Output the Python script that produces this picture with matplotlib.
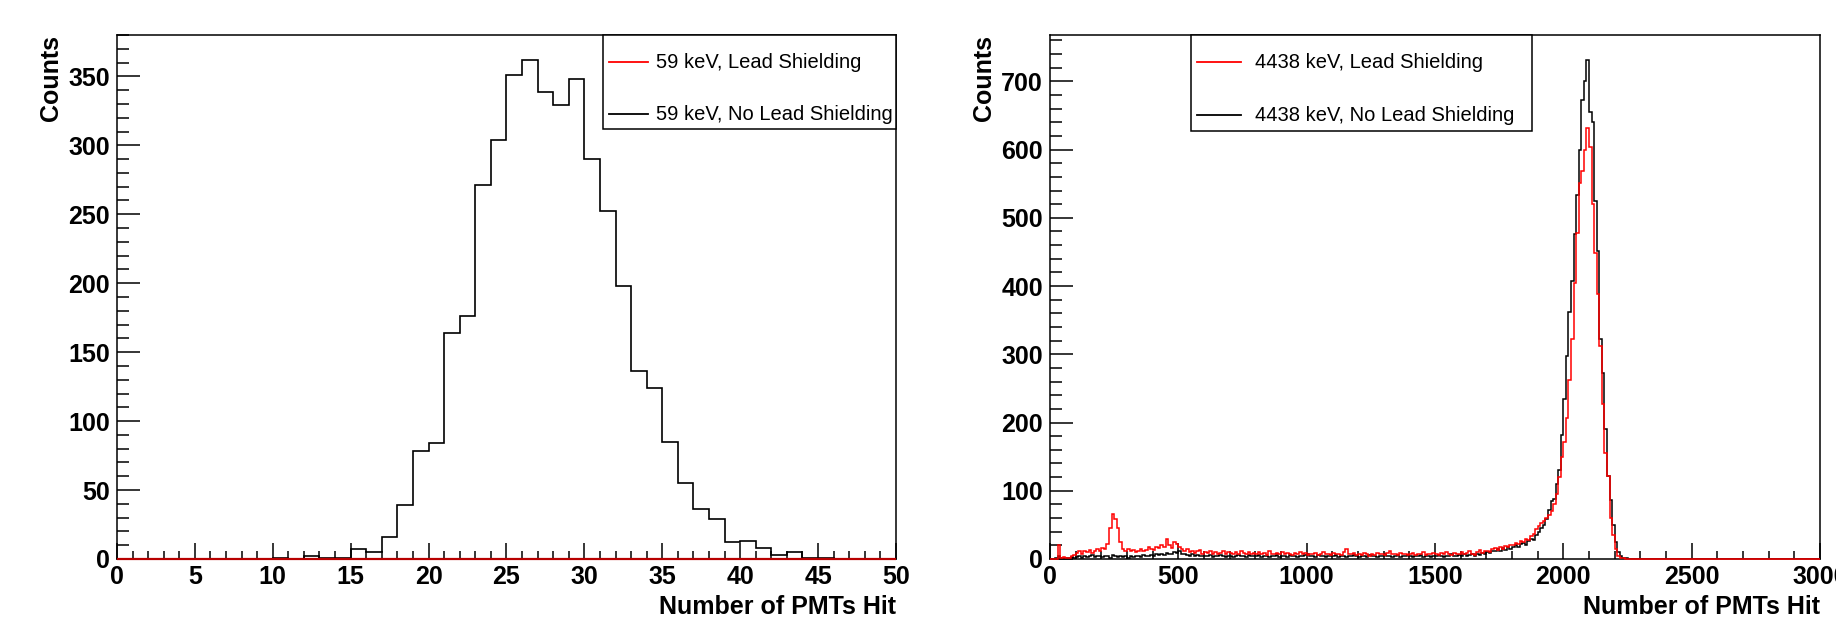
import numpy as np
import matplotlib.pyplot as plt
from matplotlib.patches import Rectangle
from matplotlib.ticker import MultipleLocator

plt.rcParams['font.family'] = ['Liberation Sans', 'DejaVu Sans']
plt.rcParams['font.weight'] = 'bold'

# ---- 59 keV panel: one bin per PMT, 0..50
low_edges = np.arange(0, 51, 1)
low_nolead = [0, 0, 0, 0, 0, 0, 0, 0, 0, 0,
              1, 0, 2, 1, 1, 7, 5, 16, 39, 78,
              84, 164, 176, 271, 304, 351, 362, 339, 329, 348,
              290, 252, 198, 136, 124, 85, 55, 36, 29, 12,
              13, 8, 3, 5, 1, 1, 0, 0, 0, 0]
low_lead = [0] * 50   # everything absorbed, histogram is empty

# ---- 4438 keV panel: bins of 10 PMTs, 0..3000 (counts listed up to 2300)
high_edges = np.arange(0, 3001, 10)
high_nolead = [0, 0, 1, 4, 2, 1, 2, 1, 3, 2,
               3, 4, 2, 5, 3, 4, 6, 3, 5, 4,
               3, 5, 4, 2, 6, 4, 3, 5, 3, 4,
               2, 4, 3, 5, 4, 3, 6, 4, 5, 6,
               5, 7, 6, 8, 6, 9, 7, 8, 10, 9,
               12, 7, 8, 6, 5, 7, 4, 6, 5, 4,
               5, 4, 6, 3, 5, 4, 6, 5, 3, 4,
               5, 3, 4, 6, 4, 5, 3, 6, 4, 5,
               4, 6, 3, 5, 4, 3, 5, 4, 6, 3,
               5, 4, 3, 6, 4, 5, 3, 4, 5, 6,
               8, 4, 5, 3, 6, 4, 5, 3, 4, 5,
               4, 6, 3, 5, 4, 3, 5, 4, 6, 4,
               3, 5, 4, 3, 6, 4, 5, 3, 4, 5,
               7, 4, 5, 3, 4, 6, 3, 5, 4, 6,
               4, 3, 5, 4, 6, 3, 5, 4, 3, 5,
               4, 6, 5, 3, 4, 5, 7, 4, 5, 6,
               5, 7, 4, 6, 8, 5, 7, 6, 9, 8,
               10, 9, 12, 11, 14, 12, 16, 13, 17, 15,
               18, 20, 17, 22, 24, 21, 26, 30, 28, 35,
               40, 45, 50, 58, 72, 85, 88, 110, 131, 181,
               234, 297, 362, 408, 476, 534, 600, 672, 700, 731,
               655, 640, 524, 451, 322, 272, 191, 121, 86, 50,
               25, 10, 5, 2, 1, 0, 0, 0, 0, 0]
high_lead = [0, 0, 0, 20, 2, 3, 1, 2, 4, 6,
             9, 11, 8, 12, 10, 13, 9, 12, 14, 11,
             16, 15, 22, 45, 66, 58, 45, 25, 15, 12,
             14, 11, 13, 10, 12, 14, 11, 13, 17, 15,
             13, 18, 16, 20, 18, 29, 20, 16, 25, 22,
             18, 15, 12, 14, 10, 12, 9, 11, 13, 8,
             10, 9, 11, 8, 10, 7, 9, 12, 8, 10,
             9, 7, 10, 8, 11, 9, 7, 10, 8, 9,
             7, 10, 8, 9, 6, 11, 8, 7, 9, 8,
             10, 7, 9, 8, 6, 9, 7, 10, 8, 9,
             6, 8, 7, 9, 6, 8, 10, 7, 8, 6,
             9, 7, 8, 6, 10, 14, 8, 7, 9, 6,
             8, 6, 9, 7, 5, 8, 6, 9, 7, 8,
             6, 9, 11, 8, 7, 6, 9, 7, 8, 6,
             7, 9, 6, 8, 7, 10, 6, 8, 7, 9,
             8, 6, 9, 7, 10, 8, 6, 9, 7, 8,
             10, 7, 9, 12, 8, 6, 10, 13, 9, 11,
             12, 10, 14, 16, 13, 17, 15, 19, 18, 21,
             20, 24, 22, 27, 25, 30, 28, 34, 37, 44,
             48, 52, 55, 60, 65, 70, 80, 95, 120, 150,
             171, 206, 262, 322, 405, 478, 551, 569, 600, 632,
             604, 521, 448, 388, 312, 227, 156, 121, 60, 35,
             15, 5, 2, 1, 0, 0, 0, 0, 0, 0]
high_tail = [0] * 70

low_labels = ['59 keV, Lead Shielding', '59 keV, No Lead Shielding']
high_labels = ['4438 keV, Lead Shielding', '4438 keV, No Lead Shielding']


def style_axes(ax, xmax, ymax, xmaj, xmin, ymaj, ymin):
    ax.set_xlim(0, xmax)
    ax.set_ylim(0, ymax)
    ax.xaxis.set_major_locator(MultipleLocator(xmaj))
    ax.xaxis.set_minor_locator(MultipleLocator(xmin))
    ax.yaxis.set_major_locator(MultipleLocator(ymaj))
    ax.yaxis.set_minor_locator(MultipleLocator(ymin))
    ax.tick_params(which='both', direction='in', top=False, right=False,
                   width=1.1, labelsize=18)
    ax.tick_params(axis='y', which='major', length=16.5, pad=5)
    ax.tick_params(axis='y', which='minor', length=8.3)
    ax.tick_params(axis='x', which='major', length=11.5, pad=4)
    ax.tick_params(axis='x', which='minor', length=5.8)
    for s in ax.spines.values():
        s.set_linewidth(1.1)
    ax.set_xlabel('Number of PMTs Hit', loc='right', fontsize=18,
                  fontweight='bold', labelpad=5)
    ax.set_ylabel('Counts', loc='top', fontsize=18, fontweight='bold',
                  labelpad=4)


def draw_key(ax, box, line_x, text_x, rows, labels):
    x0, y0, x1, y1 = box
    ax.add_patch(Rectangle((x0, y0), x1 - x0, y1 - y0, transform=ax.transAxes,
                           fill=True, facecolor='white', edgecolor='black',
                           lw=1.1, zorder=5, clip_on=False))
    for lab, col, y in zip(labels, ['red', 'black'], rows):
        ax.plot(line_x, [y, y], color=col, lw=1.3, transform=ax.transAxes,
                zorder=6, clip_on=False)
        ax.text(text_x, y, lab, transform=ax.transAxes, va='center', ha='left',
                fontsize=14.5, fontweight='normal', zorder=6)


fig = plt.figure(figsize=(18.36, 6.27), dpi=100)
ax1 = fig.add_axes([0.0637, 0.1085, 0.4243, 0.8357])
ax2 = fig.add_axes([0.5719, 0.1085, 0.4194, 0.8357])

# left: 59 keV
ax1.stairs(low_nolead, low_edges, baseline=None, color='black', lw=1.2)
ax1.stairs(low_lead, low_edges, baseline=None, color='#b80000', lw=1.6,
           clip_on=False, zorder=3)
style_axes(ax1, 50, 380, 5, 1, 50, 10)
draw_key(ax1, (0.624, 0.821, 1.0, 1.0), [0.632, 0.682], 0.692,
         [0.948, 0.849], low_labels)

# right: 4438 keV
ax2.stairs(high_nolead + high_tail, high_edges, baseline=None, color='black', lw=1.1)
ax2.stairs(high_lead + high_tail, high_edges, baseline=None, color='red', lw=1.1,
           clip_on=False, zorder=3)
style_axes(ax2, 3000, 768, 500, 100, 100, 20)
draw_key(ax2, (0.183, 0.817, 0.626, 1.0), [0.191, 0.248], 0.266,
         [0.948, 0.847], high_labels)

fig.savefig('out.png', dpi=100)
